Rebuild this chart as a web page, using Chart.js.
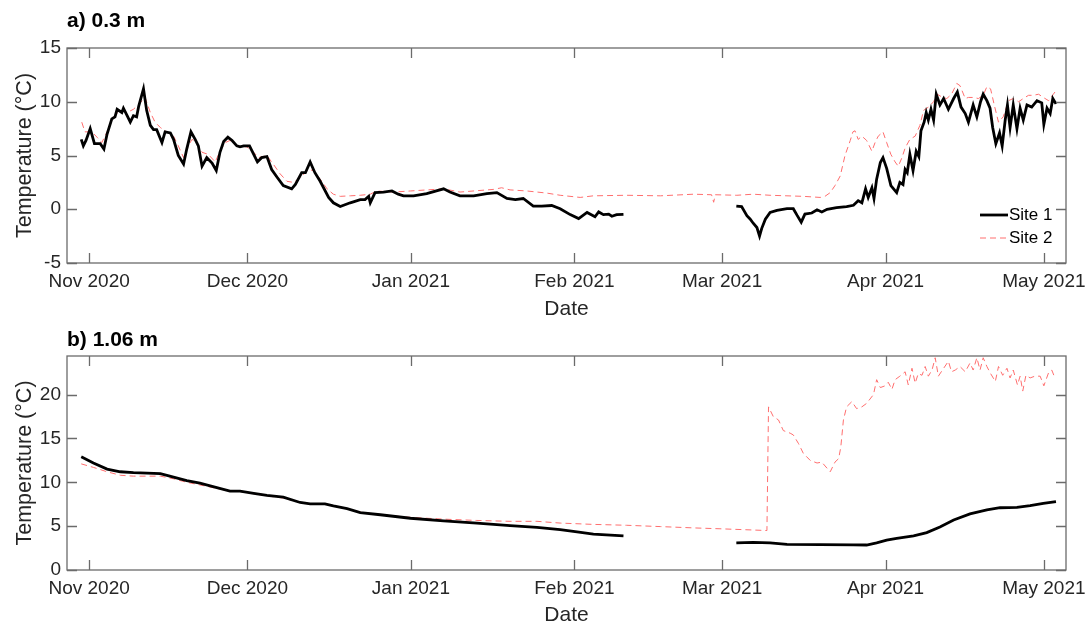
<!DOCTYPE html>
<html>
<head>
<meta charset="utf-8">
<script src="https://cdn.jsdelivr.net/npm/chart.js@4.4.0/dist/chart.umd.min.js"></script>
<style>
  html, body { margin: 0; padding: 0; background: #ffffff; }
  body { width: 1087px; height: 627px; position: relative; overflow: hidden; }
  canvas { position: absolute; left: 0; }
  #cA { top: 0; }
  #cB { top: 321px; }
</style>
</head>
<body>
<canvas id="cA" width="1087" height="321"></canvas>
<canvas id="cB" width="1087" height="306"></canvas>
<script>
// ---- x axis: days since 1 Nov 2020 ----
const monthTickDays = [0, 30, 61, 92, 120, 151, 181];
const monthTickLabels = ['Nov 2020', 'Dec 2020', 'Jan 2021', 'Feb 2021', 'Mar 2021', 'Apr 2021', 'May 2021'];
const panelTitles = ['a) 0.3 m', 'b) 1.06 m'];
const seriesNames = ['Site 1', 'Site 2'];
const topYTicks = [-5, 0, 5, 10, 15];
const botYTicks = [0, 5, 10, 15, 20];

// ---- a) 0.3 m, Site 1 ----
const s1TopDays = [-1.5,-1.1,-0.6,0.2,1.0,2.1,2.8,3.4,4.3,4.9,5.3,6.2,6.5,7.2,7.8,8.4,9.0,9.4,10.3,10.9,11.6,12.2,12.8,13.8,14.4,15.4,16.0,16.9,17.9,18.5,19.3,20.1,20.7,21.4,22.3,23.3,24.1,24.8,25.5,26.3,27.1,28.0,28.6,29.3,30.4,31.2,31.9,32.7,33.7,34.6,35.6,36.8,38.4,39.1,40.3,41.0,41.9,42.8,43.8,45.4,46.3,47.6,49.5,51.4,52.3,53.0,53.3,54.2,55.8,57.4,58.6,59.6,61.5,64.0,67.2,68.4,70.3,72.9,75.4,77.3,79.2,80.8,82.3,84.2,85.8,87.7,89.3,91.2,92.8,94.4,95.9,96.6,97.5,98.5,99.1,100.0,101.3,
  112,
  122.7,123.7,124.7,125.3,125.9,126.6,127.1,127.5,128.2,129.1,130.4,132.3,133.5,134.2,135.0,135.7,137.0,138.0,138.9,139.9,141.7,143.6,144.9,145.8,146.5,147.2,147.7,148.4,148.8,149.3,150.0,150.5,151.2,152.0,153.1,153.7,154.3,154.7,155.1,155.6,156.2,156.8,157.3,157.7,158.3,158.7,159.1,159.6,160.1,160.6,161.3,162.0,162.9,163.9,164.6,165.3,166.1,166.7,167.6,168.3,169.0,169.5,170.2,170.8,171.3,171.9,172.6,173.1,173.7,174.1,174.6,175.2,175.9,176.5,177.1,177.8,178.7,179.7,180.6,181.0,181.6,182.2,182.7,183.3];
const s1TopTemp = [6.5,5.9,6.4,7.5,6.1,6.1,5.6,7.0,8.4,8.6,9.3,9.0,9.4,8.7,8.1,8.7,8.6,9.6,11.2,9.2,7.8,7.4,7.4,6.2,7.2,7.1,6.5,5.0,4.2,5.6,7.2,6.5,5.9,4.0,4.8,4.3,3.6,5.3,6.3,6.7,6.4,5.9,5.8,5.9,5.9,5.1,4.4,4.8,4.9,3.7,3.0,2.2,1.9,2.3,3.4,3.4,4.4,3.4,2.6,1.1,0.6,0.25,0.6,0.9,0.9,1.2,0.6,1.55,1.6,1.7,1.4,1.25,1.25,1.45,1.9,1.6,1.25,1.25,1.45,1.55,1.0,0.9,1.0,0.3,0.3,0.35,0.05,-0.5,-0.87,-0.3,-0.7,-0.25,-0.5,-0.45,-0.65,-0.5,-0.47,
  null,
  0.3,0.25,-0.6,-0.9,-1.3,-1.7,-2.5,-1.8,-0.93,-0.3,-0.1,0.05,0.05,-0.55,-1.2,-0.45,-0.35,-0.05,-0.25,0.0,0.15,0.25,0.37,0.8,0.6,1.9,1.1,2.0,1.0,2.8,4.35,4.8,3.8,2.2,1.55,2.5,2.3,3.7,3.4,5.1,3.6,5.4,4.9,7.3,8.1,9.0,8.3,9.3,8.3,10.7,9.7,10.3,9.3,10.3,10.9,9.5,8.9,8.1,9.7,8.6,10.0,10.7,10.1,9.4,7.6,6.1,7.1,5.9,8.4,9.7,7.6,9.7,7.5,9.4,8.3,9.7,9.5,10.1,9.9,7.9,9.4,8.9,10.3,9.8];

// ---- a) 0.3 m, Site 2 ----
const s2TopDays = [-1.4,-0.8,0.5,1.5,2.4,3.4,4.6,5.9,7.2,8.4,9.7,10.6,11.6,12.5,13.5,14.7,16.0,16.9,17.9,18.8,19.5,20.4,21.4,22.6,23.9,24.8,25.8,26.7,28.0,29.9,31.2,32.1,33.7,34.9,36.2,37.5,38.7,40.0,41.6,42.5,43.8,45.1,46.3,47.6,49.5,51.4,53.3,54.5,57.7,60.9,67.2,70.3,76.7,78.2,79.8,83.0,86.8,89.3,93.1,95.6,101.9,108.3,114.6,118.0,118.4,118.7,122.8,125.9,129.1,132.3,135.4,138.6,139.5,140.5,141.4,142.4,143.3,144.3,144.8,145.2,145.8,146.5,147.4,148.4,149.0,149.6,150.5,151.2,152.0,152.8,153.4,154.1,154.7,155.6,156.6,157.5,158.2,159.1,160.1,160.8,161.8,162.6,163.5,164.5,165.1,166.1,166.7,167.6,168.6,169.5,170.2,170.9,171.6,172.4,173.3,174.3,175.2,176.2,177.1,178.1,179.0,180.0,180.9,181.9,182.8,183.1];
const s2TopTemp = [8.1,7.2,7.2,6.7,6.2,7.2,8.6,9.2,9.0,9.3,9.9,10.4,9.0,8.1,7.6,7.2,6.8,5.9,4.8,5.9,6.5,6.2,5.3,5.1,4.4,5.4,6.2,6.4,5.9,5.8,5.3,4.8,5.0,4.2,3.3,2.6,2.5,2.9,3.7,3.6,2.8,1.9,1.4,1.2,1.25,1.3,1.4,1.7,1.6,1.7,1.9,1.6,1.85,2.0,1.8,1.7,1.5,1.3,1.1,1.25,1.3,1.25,1.4,1.35,0.65,1.35,1.3,1.4,1.3,1.25,1.2,1.1,1.2,1.55,2.2,3.1,5.0,6.4,7.2,7.3,6.5,6.8,6.4,5.4,6.2,6.8,7.2,6.2,5.1,4.4,4.0,4.8,5.7,6.5,6.8,7.8,9.2,9.5,10.0,10.7,10.4,10.3,10.7,11.7,11.5,10.3,10.4,10.4,10.3,10.6,11.4,11.2,9.7,8.1,8.6,10.1,10.3,10.0,10.3,10.6,10.6,10.7,10.4,10.1,10.7,10.9];

// ---- b) 1.06 m, Site 1 ----
const s1BotDays = [-1.5,0.8,3.4,5.9,8.4,13.5,16.0,18.5,21.0,24.2,26.7,28.6,31.2,33.7,36.8,40.0,41.9,44.7,46.3,48.9,51.4,55.2,60.9,67.2,73.5,79.8,84.9,89.3,92.5,95.6,101.3,
  112,
  122.7,125.9,129.1,132.3,138.6,144.9,147.4,149.3,151.2,153.1,156.3,158.8,161.3,163.9,167.0,170.2,172.7,175.9,178.4,180.9,183.3];
const s1BotTemp = [12.9,12.2,11.5,11.2,11.1,11.0,10.6,10.2,9.9,9.4,9.0,9.0,8.75,8.5,8.3,7.7,7.55,7.55,7.3,7.0,6.55,6.3,5.9,5.6,5.35,5.05,4.85,4.6,4.35,4.1,3.9,
  null,
  3.1,3.15,3.1,2.93,2.9,2.87,2.85,3.1,3.4,3.6,3.9,4.26,4.9,5.7,6.4,6.85,7.1,7.15,7.35,7.6,7.8];

// ---- b) 1.06 m, Site 2 ----
const s2BotDays = [-1.5,0.8,3.4,5.9,8.4,13.5,16.0,18.5,21.0,24.2,26.7,28.6,31.2,33.7,36.8,40.0,41.9,44.7,46.3,48.9,51.4,55.2,60.9,67.2,73.5,79.8,84.9,89.3,95.6,101.9,108.3,114.6,119.6,128.5,128.8,129.7,130.7,131.6,132.9,133.5,134.5,135.4,136.7,138.0,138.9,139.9,140.5,141.4,142.1,142.5,143.0,143.6,144.6,145.5,146.5,147.4,148.7,149.3,150.0,150.9,151.5,152.2,152.8,153.7,154.7,155.3,156.0,156.6,157.2,157.9,158.5,159.1,159.8,160.4,161.0,162.0,162.9,163.5,164.2,165.1,166.1,167.0,167.6,168.3,168.9,169.5,170.2,170.9,171.8,172.4,173.2,174.0,174.6,175.2,176.0,176.5,177.0,177.6,178.4,179.3,180.3,181.0,181.9,182.5,183.1];
const s2BotTemp = [12.1,11.7,11.2,10.8,10.7,10.7,10.4,10.0,9.7,9.3,9.0,8.95,8.7,8.45,8.2,7.7,7.55,7.5,7.3,7.0,6.6,6.3,6.0,5.8,5.65,5.55,5.55,5.35,5.2,5.1,4.95,4.8,4.7,4.5,18.6,17.5,17.1,15.9,15.6,15.4,14.4,13.3,12.5,12.2,12.3,11.6,11.2,12.3,12.7,14.0,17.1,18.6,19.2,18.4,18.6,19.0,20.0,21.7,20.8,21.0,21.4,20.6,21.7,22.1,22.6,21.1,23.0,21.3,22.4,22.2,23.2,22.1,22.8,24.2,22.1,23.0,23.8,22.6,22.8,23.2,22.6,23.6,22.8,24.2,22.8,24.2,23.2,22.4,21.5,23.2,22.2,23.0,21.9,22.8,21.1,22.1,20.4,22.2,21.9,22.1,22.1,21.0,22.5,22.8,21.9];

// ---- styling constants ----
const FONT = '"Liberation Sans", Arial, Helvetica, sans-serif';
const AXIS_COLOR = '#6b6b6b';
const TEXT_COLOR = '#262626';
const SITE1_COLOR = '#000000';
const SITE2_COLOR = '#ff6e6e';

function pts(days, temps) {
  return days.map((d, i) => ({ x: d, y: temps[i] }));
}

const framePlugin = {
  id: 'frame',
  afterDraw(chart, args, opts) {
    const { ctx, chartArea: a, scales } = chart;
    ctx.save();
    ctx.strokeStyle = AXIS_COLOR;
    ctx.lineWidth = 1.3;
    ctx.strokeRect(a.left, a.top, a.right - a.left, a.bottom - a.top);
    const tl = 10;
    ctx.beginPath();
    scales.x.ticks.forEach(t => {
      const px = Math.round(scales.x.getPixelForValue(t.value)) + 0.5;
      ctx.moveTo(px, a.bottom); ctx.lineTo(px, a.bottom - tl);
      ctx.moveTo(px, a.top); ctx.lineTo(px, a.top + tl);
    });
    scales.y.ticks.forEach(t => {
      const py = Math.round(scales.y.getPixelForValue(t.value)) + 0.5;
      ctx.moveTo(a.left, py); ctx.lineTo(a.left + tl, py);
      ctx.moveTo(a.right, py); ctx.lineTo(a.right - tl, py);
    });
    ctx.stroke();
    // panel title
    ctx.fillStyle = '#000';
    ctx.font = 'bold 21px ' + FONT;
    ctx.textBaseline = 'middle';
    ctx.textAlign = 'left';
    ctx.fillText(opts.title, a.left, opts.titleY);
    // legend
    if (opts.legend) {
      const L = opts.legend;
      ctx.font = '17px ' + FONT;
      chart.data.datasets.forEach((ds, i) => {
        const y = L.y + i * L.dy;
        ctx.save();
        ctx.strokeStyle = ds.borderColor;
        ctx.lineWidth = ds.borderWidth;
        ctx.setLineDash(ds.borderDash || []);
        ctx.beginPath();
        ctx.moveTo(L.x, y); ctx.lineTo(L.x + 28, y);
        ctx.stroke();
        ctx.restore();
        ctx.fillStyle = '#000';
        ctx.fillText(ds.label, L.x + 29, y);
      });
    }
    ctx.restore();
  }
};

function makeChart(id, cfg) {
  return new Chart(document.getElementById(id), {
    type: 'line',
    data: {
      datasets: [
        { label: seriesNames[0], data: pts(cfg.s1d, cfg.s1t), borderColor: SITE1_COLOR, borderWidth: 2.8,
          pointRadius: 0, tension: 0, spanGaps: false, order: 1 },
        { label: seriesNames[1], data: pts(cfg.s2d, cfg.s2t), borderColor: SITE2_COLOR, borderWidth: 1,
          borderDash: [6, 4], pointRadius: 0, tension: 0, spanGaps: false, order: 2 }
      ]
    },
    options: {
      responsive: false,
      animation: false,
      layout: { padding: { top: cfg.top, right: 21, left: 0, bottom: 0 } },
      plugins: {
        legend: { display: false },
        tooltip: { enabled: false },
        frame: { title: cfg.title, titleY: cfg.titleY, legend: cfg.legend }
      },
      scales: {
        x: {
          type: 'linear', min: -4.2, max: 185.2,
          grid: { display: false, drawTicks: false }, border: { display: false },
          afterBuildTicks: s => { s.ticks = monthTickDays.map(v => ({ value: v })); },
          afterFit: s => { s.height = cfg.xh; s.paddingLeft = 0; s.paddingRight = 0; },
          ticks: { autoSkip: false, maxRotation: 0, padding: 7, color: TEXT_COLOR,
                   font: { family: FONT, size: 19 },
                   callback: v => monthTickLabels[monthTickDays.indexOf(v)] },
          title: { display: true, text: 'Date', color: TEXT_COLOR, font: { family: FONT, size: 21 },
                   padding: { top: 0, bottom: -1 } }
        },
        y: {
          type: 'linear', min: cfg.ymin, max: cfg.ymax,
          grid: { display: false, drawTicks: false }, border: { display: false },
          afterBuildTicks: s => { s.ticks = cfg.yticks.map(v => ({ value: v })); },
          afterFit: s => { s.width = 67; s.paddingTop = 0; s.paddingBottom = 0; },
          ticks: { padding: 6, color: TEXT_COLOR, font: { family: FONT, size: 19 } },
          title: { display: true, text: 'Temperature (°C)', color: TEXT_COLOR, font: { family: FONT, size: 21.5 },
                   padding: { top: 12, bottom: 0 } }
        }
      }
    },
    plugins: [framePlugin]
  });
}

makeChart('cA', { s1d: s1TopDays, s1t: s1TopTemp, s2d: s2TopDays, s2t: s2TopTemp,
  ymin: -5, ymax: 15, yticks: topYTicks, top: 48, xh: 58,
  title: panelTitles[0], titleY: 21, legend: { x: 980, y: 215, dy: 23 } });
makeChart('cB', { s1d: s1BotDays, s1t: s1BotTemp, s2d: s2BotDays, s2t: s2BotTemp,
  ymin: 0, ymax: 24.4, yticks: botYTicks, top: 35, xh: 57,
  title: panelTitles[1], titleY: 19, legend: null });
</script>
</body>
</html>
